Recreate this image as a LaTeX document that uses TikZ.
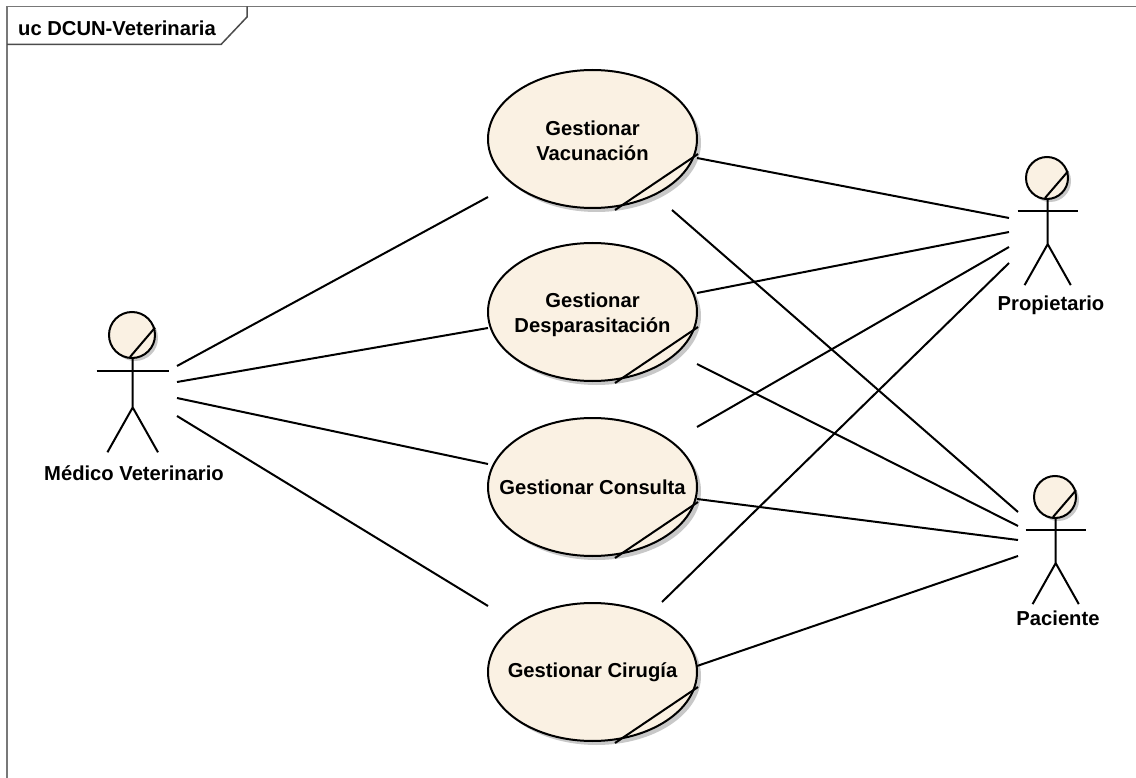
\documentclass[tikz,border=0pt]{standalone}
\usepackage{fontspec}
\setmainfont{Liberation Sans}
\definecolor{ucfill}{RGB}{250,241,227}
\definecolor{ucshadow}{RGB}{200,200,200}
\definecolor{framegray}{RGB}{120,120,120}
\tikzset{
  ucline/.style={line width=2pt,black},
  conn/.style={line width=2pt,black},
  lbl/.style={font=\fontsize{20.2}{25}\selectfont\bfseries,align=center,text=black,inner sep=0pt},
  framestyle/.style={line width=1.6pt,framegray},
  tagstyle/.style={line width=1.5pt,black!70},
}
% #1 name, #2 x, #3 y, #4 rx, #5 ry, #6 text, #7 text dy
\newcommand{\usecase}[7]{%
  \fill[ucshadow] (#2+4,#3+4) ellipse [x radius=#4,y radius=#5];
  \fill[ucfill] (#2,#3) ellipse [x radius=#4,y radius=#5];
  \draw[ucline] (#2,#3) ellipse [x radius=#4,y radius=#5];
  \draw[ucline] (#2+22.5,#3+71) -- (#2+105.5,#3+15);
  \node[lbl] (#1) at (#2,#3+#7) {#6};
}
% #1 name, #2 head x, #3 head y, #4 r, #5 arm half, #6 label, #7 label dy, #8 label dx
\newcommand{\actor}[8]{%
  \fill[ucshadow] (#2+3,#3+3) circle (#4);
  \fill[ucfill] (#2,#3) circle (#4);
  \draw[ucline] (#2,#3) circle (#4);
  \draw[ucline] (#2-2,#3+#4-1) -- (#2+#4,#3-#4*0.32);
  \draw[ucline] (#2+0.7,#3+#4) -- (#2+0.7,#3+#4+#4*2.15)
     -- ++(-#4*1.1,#4*1.95) ++(#4*1.1,-#4*1.95) -- ++(#4*1.1,#4*1.95);
  \draw[ucline] (#2+0.7-#5,#3+#4*1.55) -- (#2+0.7+#5,#3+#4*1.55);
  \node[lbl] (#1) at (#2+#8,#3+#7) {#6};
}
\begin{document}
\begin{tikzpicture}[x=1pt,y=-1pt]
\useasboundingbox (0,0) rectangle (1136,778);
\fill[white] (0,0) rectangle (1136,778);
% frame
\draw[framestyle] (7,778) -- (7,6.5) -- (1136,6.5);
\node[lbl,anchor=west] (title) at (18,28) {uc DCUN-Veterinaria};
\draw[tagstyle] (7,44.5) -- (221,44.5) -- (247,17) -- (247,6.5);
% use cases
\usecase{vac}{592.5}{139}{104.5}{69}{Gestionar\\Vacunación}{2}
\usecase{des}{592.5}{312}{104.5}{69}{Gestionar\\Desparasitación}{2.5}
\usecase{con}{592.5}{487}{104.5}{69}{Gestionar Consulta}{0}
\usecase{cir}{592.5}{672}{104.5}{69}{Gestionar Cirugía}{0}
% actors
\actor{med}{132}{335}{23}{36}{Médico Veterinario}{138}{2}
\actor{pro}{1047}{178}{21}{30}{Propietario}{127}{4}
\actor{pac}{1055}{497}{21}{30}{Paciente}{121}{3}
% connector ends
\foreach \n/\x/\y in {
  m1/177/366, m2/177/382, m3/177/398, m4/177/416,
  v1/488/197, d1/488/328, c1/488/464, g1/488/606,
  v2/697/158, d2/697/293, c2/697/427, g2/662/602,
  p1/1009/218, p2/1009/232, p3/1009/247, p4/1009/263,
  v3/672/210, d3/697/364, c3/697/499, g3/697/666,
  q1/1018/512, q2/1018/526, q3/1018/540, q4/1018/556}
  {\coordinate (\n) at (\x,\y);}
\draw[conn] (m1) -- (v1);
\draw[conn] (m2) -- (d1);
\draw[conn] (m3) -- (c1);
\draw[conn] (m4) -- (g1);
\draw[conn] (v2) -- (p1);
\draw[conn] (d2) -- (p2);
\draw[conn] (c2) -- (p3);
\draw[conn] (g2) -- (p4);
\draw[conn] (v3) -- (q1);
\draw[conn] (d3) -- (q2);
\draw[conn] (c3) -- (q3);
\draw[conn] (g3) -- (q4);
\end{tikzpicture}
\end{document}
